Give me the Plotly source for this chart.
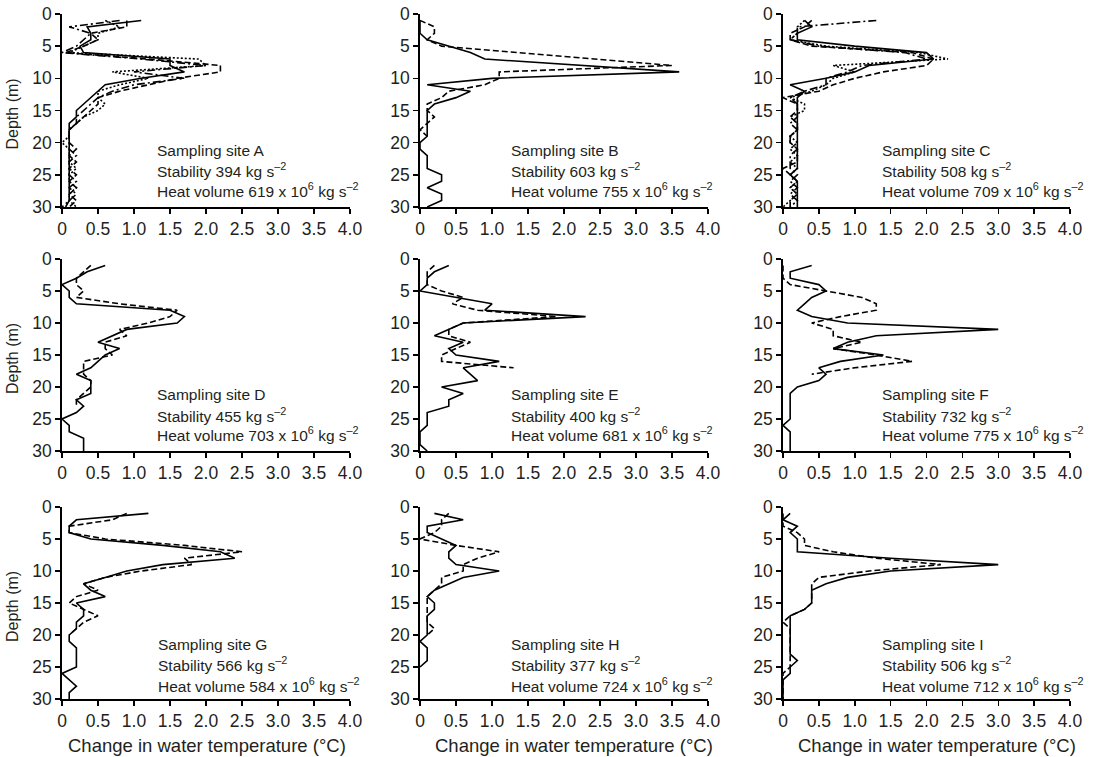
import plotly.graph_objects as go

W, H = 1096, 757

DEPTHS = list(range(1, 31))
SITES = ["A", "B", "C", "D", "E", "F", "G", "H", "I"]
STABILITY = [394, 603, 508, 455, 400, 732, 566, 377, 506]
HEAT_VOLUME = [619, 755, 709, 703, 681, 775, 584, 724, 712]
X_TICKS = [0, 0.5, 1.0, 1.5, 2.0, 2.5, 3.0, 3.5, 4.0]
X_TICKTEXT = ["0", "0.5", "1.0", "1.5", "2.0", "2.5", "3.0", "3.5", "4.0"]
Y_TICKS = [0, 5, 10, 15, 20, 25, 30]

A_solid = [1.1, 0.35, 0.4, 0.4, 0.25, 0.3, 1.5, 1.5, 1.7, 1.1, 0.6, 0.5, 0.4, 0.3, 0.2, 0.2, 0.1, 0.1, 0.1, 0.1, 0.1, 0.1, 0.1, 0.1, 0.1, 0.1, 0.1, 0.1, 0.1, 0.05]
A_dashed = [0.9, 0.9, 0.4, 0.5, 0.3, 0.05, 1.2, 2.2, 2.2, 1.6, 1.2, 0.8, 0.5, 0.5, 0.4, 0.3, 0.2, 0.1, 0.1, 0.1, 0.2, 0.1, 0.2, 0.1, 0.2, 0.1, 0.2, 0.1, 0.2, 0.1]
A_dotted = [0.6, 0.8, 0.5, 0.5, 0.3, 0.1, 1.9, 2.0, 0.7, 1.2, 0.8, 0.5, 0.5, 0.6, 0.5, 0.3, 0.2, 0.1, 0.1, 0.0, 0.1, 0.1, 0.1, 0.2, 0.1, 0.1, 0.2, 0.1, 0.1, 0.2]
A_dashdot = [0.8, 0.1, 0.4, 0.3, 0.2, 0.0, 1.1, 2.0, 1.0, 1.7, 1.0, 0.7, 0.5, 0.4, 0.3, 0.2, 0.2, 0.1, 0.1, 0.1, 0.1, 0.2, 0.1, 0.1, 0.1, 0.2, 0.1, 0.2, 0.1, 0.0]

B_solid = [0.0, 0.0, 0.0, 0.1, 0.4, 0.7, 0.9, 2.25, 3.6, 1.0, 0.1, 0.7, 0.5, 0.2, 0.1, 0.1, 0.1, 0.1, 0.1, 0.0, 0.0, 0.1, 0.1, 0.1, 0.3, 0.3, 0.1, 0.3, 0.3, 0.1]
B_dashed = [0.0, 0.2, 0.2, 0.1, 0.3, 1.4, 2.5, 3.5, 1.1, 1.1, 0.9, 0.4, 0.3, 0.1, 0.1, 0.2, 0.1, 0.0, 0.1]

C_solid = [0.3, 0.4, 0.2, 0.2, 1.0, 2.0, 2.1, 1.2, 1.0, 0.6, 0.1, 0.3, 0.2, 0.2, 0.2, 0.2, 0.2, 0.2, 0.2, 0.2, 0.2, 0.2, 0.2, 0.2, 0.1, 0.2, 0.2, 0.2, 0.2, 0.2]
C_dashed = [0.4, 0.3, 0.1, 0.1, 0.4, 1.8, 2.1, 2.0, 1.4, 1.0, 0.7, 0.5, 0.0, 0.2, 0.2, 0.1, 0.2, 0.2, 0.1, 0.1, 0.2, 0.2, 0.2, 0.0, 0.1, 0.2, 0.1, 0.2, 0.1, 0.1]
C_dotted = [0.3, 0.2, 0.2, 0.1, 0.6, 1.9, 2.3, 0.7, 1.0, 0.7, 0.6, 0.4, 0.1, 0.3, 0.3, 0.1, 0.2, 0.2, 0.1, 0.2, 0.1, 0.2, 0.1, 0.2, 0.1, 0.2, 0.1, 0.2, 0.1, 0.0]
C_dashdot = [1.3, 0.2, 0.2, 0.1, 0.5, 1.7, 2.0, 1.1, 0.9, 0.6, 0.6, 0.3, 0.1, 0.2, 0.2, 0.2, 0.1, 0.2, 0.1, 0.1, 0.2, 0.1, 0.1, 0.1, 0.2, 0.1, 0.2, 0.1, 0.2, 0.1]

D_solid = [0.6, 0.35, 0.2, 0.0, 0.1, 0.1, 0.2, 1.5, 1.7, 1.6, 0.9, 0.7, 0.5, 0.8, 0.6, 0.5, 0.4, 0.2, 0.4, 0.4, 0.4, 0.2, 0.3, 0.2, 0.0, 0.1, 0.1, 0.3, 0.3, 0.3]
D_dashed = [0.4, 0.3, 0.2, 0.2, 0.3, 0.2, 0.8, 1.6, 1.5, 1.2, 0.8, 0.9, 0.6, 0.6, 0.7, 0.3, 0.3, 0.3, 0.4, 0.4, 0.3, 0.2, 0.2]

E_solid = [0.4, 0.2, 0.1, 0.1, 0.0, 0.5, 1.0, 0.9, 2.3, 0.6, 0.4, 0.2, 0.6, 0.4, 0.5, 1.1, 0.6, 0.7, 0.8, 0.3, 0.6, 0.4, 0.4, 0.1, 0.1, 0.1, 0.0, 0.0, 0.0, 0.1]
E_dashed = [0.2, 0.1, 0.1, 0.1, 0.3, 0.6, 0.45, 0.8, 1.9, 0.6, 0.4, 0.4, 0.7, 0.5, 0.3, 0.3, 1.3]

F_solid = [0.4, 0.1, 0.1, 0.5, 0.6, 0.4, 0.3, 0.2, 0.4, 0.9, 3.0, 1.3, 0.9, 0.7, 1.4, 0.8, 0.5, 0.6, 0.5, 0.2, 0.1, 0.1, 0.1, 0.1, 0.1, 0.0, 0.1, 0.1, 0.1, 0.1]
F_dashed = [0.0, 0.0, 0.0, 0.1, 0.6, 1.1, 1.3, 1.3, 0.8, 0.4, 0.7, 0.7, 1.1, 0.7, 1.3, 1.8, 1.0, 0.4]

G_solid = [1.2, 0.2, 0.1, 0.1, 0.4, 1.4, 2.2, 2.4, 1.4, 0.9, 0.6, 0.3, 0.4, 0.6, 0.2, 0.3, 0.3, 0.2, 0.2, 0.1, 0.1, 0.2, 0.2, 0.2, 0.2, 0.0, 0.1, 0.2, 0.1, 0.1]
G_dashed = [0.9, 0.7, 0.1, 0.1, 0.6, 1.7, 2.5, 1.7, 1.8, 1.1, 0.6, 0.3, 0.5, 0.2, 0.1, 0.3, 0.5, 0.3, 0.2, 0.1]

H_solid = [0.2, 0.6, 0.1, 0.1, 0.3, 0.5, 0.4, 0.4, 0.5, 1.1, 0.6, 0.4, 0.2, 0.1, 0.2, 0.2, 0.1, 0.1, 0.1, 0.1, 0.0, 0.1, 0.1, 0.1, 0.0]
H_dashed = [0.4, 0.3, 0.3, 0.2, 0.0, 0.5, 1.1, 0.8, 0.6, 0.6, 0.3, 0.3, 0.2, 0.1, 0.1, 0.1, 0.1, 0.1, 0.2, 0.1]

I_solid = [0.1, 0.0, 0.2, 0.1, 0.2, 0.2, 0.2, 1.5, 3.0, 1.5, 0.9, 0.6, 0.4, 0.4, 0.4, 0.3, 0.1, 0.1, 0.1, 0.1, 0.1, 0.1, 0.1, 0.2, 0.1, 0.1, 0.0, 0.0, 0.0, 0.0]
I_dashed = [0.0, 0.0, 0.0, 0.2, 0.3, 0.3, 0.7, 1.3, 2.2, 1.2, 0.5, 0.4, 0.4, 0.4, 0.4, 0.3, 0.1, 0.0, 0.1, 0.1, 0.1, 0.1, 0.1, 0.1, 0.1, 0.0, 0.0, 0.0, 0.0, 0.0]

PANEL_SERIES = [
    [("solid", A_solid), ("dashed", A_dashed), ("dotted", A_dotted), ("dashdot", A_dashdot)],
    [("solid", B_solid), ("dashed", B_dashed)],
    [("solid", C_solid), ("dashed", C_dashed), ("dotted", C_dotted), ("dashdot", C_dashdot)],
    [("solid", D_solid), ("dashed", D_dashed)],
    [("solid", E_solid), ("dashed", E_dashed)],
    [("solid", F_solid), ("dashed", F_dashed)],
    [("solid", G_solid), ("dashed", G_dashed)],
    [("solid", H_solid), ("dashed", H_dashed)],
    [("solid", I_solid), ("dashed", I_dashed)],
]

# label positions (data units) per panel
LABEL_X = [1.29, 1.24, 1.35, 1.29, 1.24, 1.35, 1.30, 1.24, 1.35]

DASHES = {"solid": "solid", "dashed": "6px,3px", "dotted": "2px,2px", "dashdot": "8px,3px,2px,3px"}

# pixel positions in the 1096x757 page
COL_PX = [(62, 350), (420, 708), (783, 1070)]
ROW_PX = [(14, 207), (259, 451), (507, 699)]

FONT = "Liberation Sans, Arial, Helvetica, sans-serif"
TXT = "#231f20"


def px_x(p):
    return p / W


def px_y(p):
    return 1 - p / H


fig = go.Figure()
layout = dict(
    width=W, height=H, margin=dict(l=0, r=0, t=0, b=0, pad=0),
    paper_bgcolor="white", plot_bgcolor="white", showlegend=False,
    font=dict(family=FONT, color=TXT, size=17),
)
annotations = []

for i, series in enumerate(PANEL_SERIES):
    r, c = divmod(i, 3)
    xa = "x" if i == 0 else f"x{i+1}"
    ya = "y" if i == 0 else f"y{i+1}"
    for style, vals in series:
        fig.add_trace(go.Scatter(
            x=vals, y=DEPTHS[:len(vals)], mode="lines", xaxis=xa, yaxis=ya,
            line=dict(color="black", width=1.6, dash=DASHES[style]),
            hoverinfo="skip",
        ))
    x0, x1 = COL_PX[c]
    y0, y1 = ROW_PX[r]
    key = "" if i == 0 else str(i + 1)
    layout["xaxis" + key] = dict(
        domain=[px_x(x0), px_x(x1)], anchor=ya, range=[0, 4],
        tickvals=X_TICKS, ticktext=X_TICKTEXT,
        showline=True, linecolor="black", linewidth=1.8,
        ticks="outside", ticklen=5, tickwidth=1.5, tickcolor="black",
        showgrid=False, zeroline=False, automargin=False,
        ticklabeloverflow="allow",
        tickfont=dict(size=17.5, color=TXT, family=FONT),
    )
    layout["yaxis" + key] = dict(
        domain=[px_y(y1), px_y(y0)], anchor=xa, range=[30, 0],
        tickvals=Y_TICKS,
        showline=True, linecolor="black", linewidth=1.8,
        ticks="outside", ticklen=5, tickwidth=1.5, tickcolor="black",
        showgrid=False, zeroline=False, automargin=False,
        ticklabeloverflow="allow",
        tickfont=dict(size=17.5, color=TXT, family=FONT),
    )
    ys = [21.5, 24.6, 27.8] if r == 2 else [21.2, 24.3, 27.4]
    lines = [
        f"Sampling site {SITES[i]}",
        f"Stability {STABILITY[i]} kg s<sup>–2</sup>",
        f"Heat volume {HEAT_VOLUME[i]} x 10<sup>6</sup> kg s<sup>–2</sup>",
    ]
    for txt, yv in zip(lines, ys):
        annotations.append(dict(
            x=LABEL_X[i], y=yv, xref=xa, yref=ya, text=txt, showarrow=False,
            xanchor="left", yanchor="middle",
            font=dict(size=15.5, color=TXT, family=FONT),
        ))

# y titles
for r in range(3):
    y0, y1 = ROW_PX[r]
    annotations.append(dict(
        x=px_x(12), y=px_y((y0 + y1) / 2 + 4), xref="paper", yref="paper",
        text="Depth (m)", textangle=-90, showarrow=False,
        xanchor="center", yanchor="middle",
        font=dict(size=16, color=TXT, family=FONT),
    ))

# x titles
for cx in [207, 574, 937]:
    annotations.append(dict(
        x=px_x(cx), y=px_y(745), xref="paper", yref="paper",
        text="Change in water temperature (°C)", showarrow=False,
        xanchor="center", yanchor="middle",
        font=dict(size=18.5, color=TXT, family=FONT),
    ))

layout["annotations"] = annotations
fig.update_layout(**layout)
fig.write_html(
    "out.html",
    config={"displayModeBar": False, "staticPlot": True},
    post_script="document.body.style.margin='0';document.body.style.padding='0';",
)
